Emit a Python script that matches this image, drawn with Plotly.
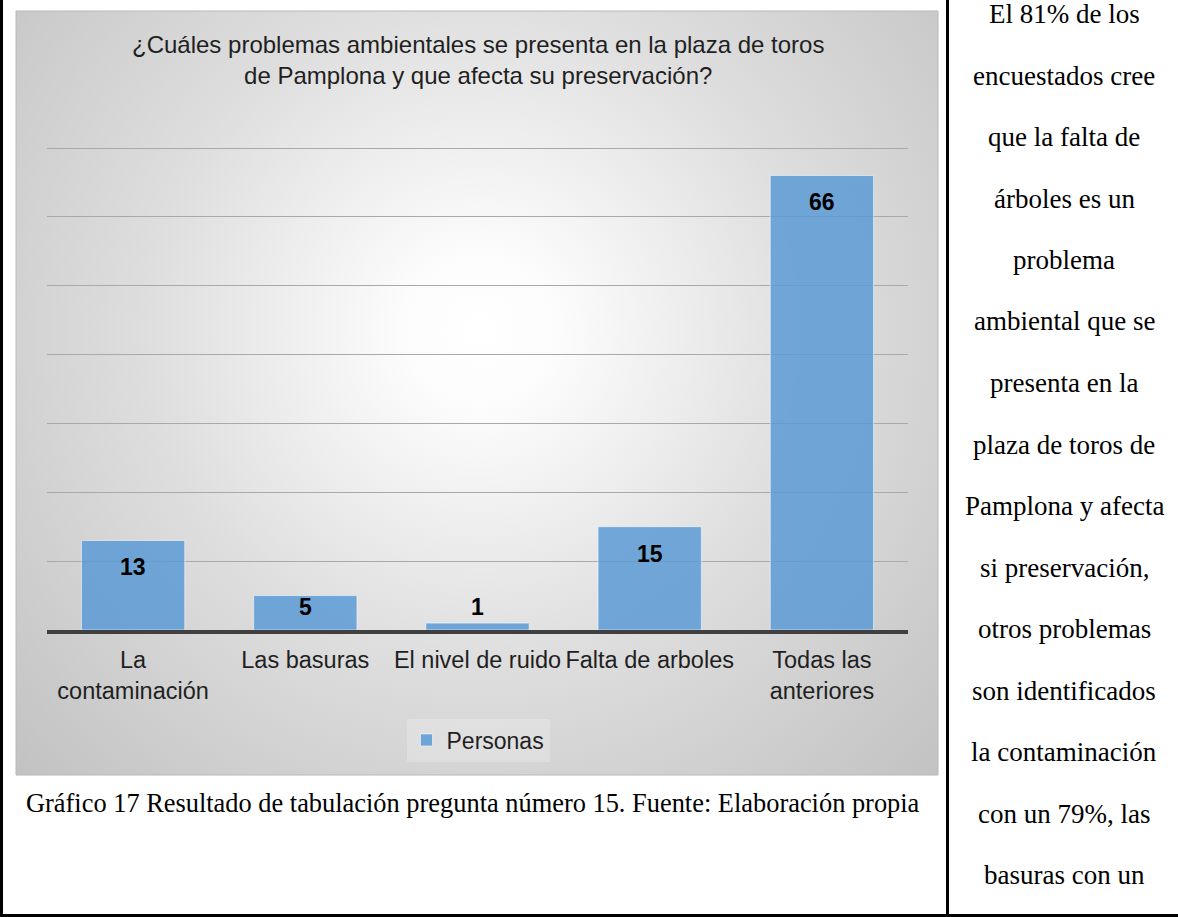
import base64
import plotly.graph_objects as go

# Survey results: question 15
categories = ["La<br>contaminación", "Las basuras", "El nivel de ruido",
              "Falta de arboles", "Todas las<br>anteriores"]
personas = [13, 5, 1, 15, 66]
series_name = "Personas"

title_lines = ["¿Cuáles problemas ambientales se presenta en la plaza de toros",
               "de Pamplona y que afecta su preservación?"]
caption = ("Gráfico 17 Resultado de tabulación pregunta número 15. "
           "Fuente: Elaboración propia")
side_text = ["El 81% de los", "encuestados cree", "que la falta de",
             "árboles es un", "problema", "ambiental que se", "presenta en la",
             "plaza de toros de", "Pamplona y afecta", "si preservación,",
             "otros problemas", "son identificados", "la contaminación",
             "con un 79%, las", "basuras con un"]

W, H = 1178, 917
SANS = "Liberation Sans, Arial, sans-serif"
SERIF = "Liberation Serif, Times New Roman, serif"


def px(x):
    return x / W


def py(y):
    return 1 - y / H


# chart frame (pixels)
cx0, cy0, cx1, cy1 = 16, 11, 938, 775
cw, ch = cx1 - cx0, cy1 - cy0

# plot area: baseline at 630 px, 10 units per 68.86 px
y_top = 70.2
unit_px = 482 / 70
plot_top = 630 - y_top * unit_px

# radial grey-to-white background of the chart area
svg = (
    f"<svg xmlns='http://www.w3.org/2000/svg' width='{cw}' height='{ch}' "
    f"viewBox='0 0 {cw} {ch}' preserveAspectRatio='none'>"
    "<defs><radialGradient id='g' gradientUnits='userSpaceOnUse' "
    f"cx='{480 - cx0}' cy='{330 - cy0}' r='640'>"
    "<stop offset='0' stop-color='#ffffff'/>"
    "<stop offset='0.12' stop-color='#fcfcfc'/>"
    "<stop offset='0.52' stop-color='#dedede'/>"
    "<stop offset='0.81' stop-color='#cdcdcd'/>"
    "<stop offset='1' stop-color='#c2c2c2'/>"
    "</radialGradient></defs>"
    f"<rect x='0' y='0' width='{cw}' height='{ch}' fill='url(#g)'/></svg>"
)
bg_src = "data:image/svg+xml;base64," + base64.b64encode(svg.encode()).decode()

fig = go.Figure()
fig.add_trace(go.Bar(
    x=categories, y=personas, name=series_name, showlegend=True,
    marker=dict(color="rgba(91,155,213,0.85)",
                line=dict(color="rgba(255,255,255,0.55)", width=1)),
    hoverinfo="x+y",
))

# value labels near the top of each bar
annotations = []
for cat, v in zip(categories, personas):
    annotations.append(dict(
        x=cat, y=max(v - 3.9, 3.3), xref="x", yref="y", text=f"<b>{v}</b>",
        showarrow=False, font=dict(family=SANS, size=23, color="#000000"),
        xanchor="center", yanchor="middle"))

# two-line chart title
annotations.append(dict(
    x=px(478), y=py(60), xref="paper", yref="paper",
    text="<br>".join(title_lines), align="center",
    showarrow=False, font=dict(family=SANS, size=24, color="#1f1f1f"),
    xanchor="center", yanchor="middle"))

# caption under the chart
annotations.append(dict(
    x=px(473), y=py(803), xref="paper", yref="paper", text=caption,
    showarrow=False, font=dict(family=SERIF, size=26.4, color="#000000"),
    xanchor="center", yanchor="middle"))

# text of the right-hand column
for i, line in enumerate(side_text):
    annotations.append(dict(
        x=px(1064), y=py(14 + 61.5 * i), xref="paper", yref="paper",
        text=line, showarrow=False,
        font=dict(family=SERIF, size=27, color="#000000"),
        xanchor="center", yanchor="middle"))

shapes = [
    # chart outline
    dict(type="rect", xref="paper", yref="paper", x0=px(cx0), x1=px(cx1),
         y0=py(cy1), y1=py(cy0), line=dict(color="#b8b8b8", width=1),
         layer="below"),
    # table borders
    dict(type="line", xref="paper", yref="paper", x0=px(1.5), x1=px(1.5),
         y0=py(0), y1=py(917), line=dict(color="#000000", width=3)),
    dict(type="line", xref="paper", yref="paper", x0=px(947.5), x1=px(947.5),
         y0=py(0), y1=py(917), line=dict(color="#000000", width=3)),
    dict(type="line", xref="paper", yref="paper", x0=0, x1=1,
         y0=py(915.5), y1=py(915.5), line=dict(color="#000000", width=3)),
]

fig.update_layout(
    width=W, height=H,
    margin=dict(l=0, r=0, t=0, b=0),
    paper_bgcolor="#ffffff",
    plot_bgcolor="rgba(0,0,0,0)",
    bargap=0.4,
    font=dict(family=SANS, size=23, color="#262626"),
    images=[dict(source=bg_src, xref="paper", yref="paper",
                 x=px(cx0), y=py(cy0), sizex=cw / W, sizey=ch / H,
                 xanchor="left", yanchor="top", sizing="stretch",
                 layer="below")],
    xaxis=dict(domain=[px(47), px(908)], showgrid=False, zeroline=False,
               showline=True, linecolor="#404040", linewidth=4,
               ticks="", ticklabelstandoff=6,
               tickfont=dict(family=SANS, size=23.5, color="#1f1f1f"),
               tickangle=0, fixedrange=True),
    yaxis=dict(domain=[py(630), py(plot_top)], range=[0, y_top], dtick=10,
               showgrid=True, gridcolor="#a9a9a9", gridwidth=1,
               zeroline=False, showticklabels=False, ticks="",
               fixedrange=True),
    legend=dict(orientation="h", x=px(478), y=py(740), xanchor="center",
                yanchor="middle", bgcolor="rgba(255,255,255,0.22)",
                font=dict(family=SANS, size=23, color="#1f1f1f")),
    annotations=annotations,
    shapes=shapes,
)

fig.write_html("out.html")
